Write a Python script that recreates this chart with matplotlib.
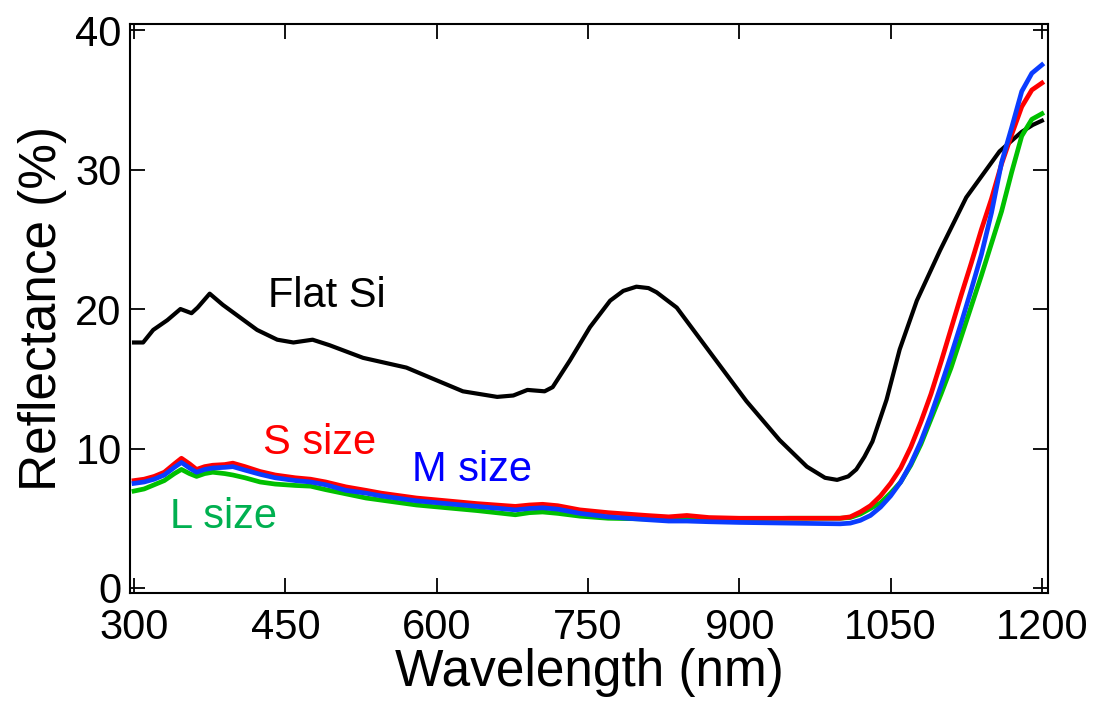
import matplotlib
matplotlib.use("Agg")
import matplotlib.pyplot as plt

# ---------------- data ----------------
wl_flat = [300, 309, 319, 333, 346, 357, 363, 375, 388, 405, 422, 442, 458, 477, 494,
           527, 570, 593, 626, 660, 676, 690, 707, 715, 732, 752, 772, 785, 798, 810,
           818, 838, 874, 907, 940, 967, 985, 997, 1008, 1016, 1024, 1032, 1046, 1059,
           1076, 1099, 1125, 1158, 1180, 1191, 1200]
r_flat = [17.6, 17.6, 18.5, 19.2, 20.0, 19.7, 20.1, 21.1, 20.3, 19.4, 18.5, 17.8, 17.6,
          17.8, 17.4, 16.5, 15.8, 15.1, 14.1, 13.7, 13.8, 14.2, 14.1, 14.4, 16.3, 18.7,
          20.6, 21.3, 21.6, 21.5, 21.2, 20.1, 16.6, 13.4, 10.6, 8.7, 7.9, 7.75, 8.0, 8.5,
          9.4, 10.5, 13.5, 17.1, 20.6, 24.2, 28.0, 31.3, 32.7, 33.2, 33.5]

wl_np = [300, 310, 320, 330, 340, 347, 355, 362, 370, 378, 390, 398, 410, 425, 440,
         460, 475, 490, 510, 530, 545, 560, 580, 610, 640, 678, 692, 705, 720, 742,
         770, 808, 830, 848, 870, 900, 950, 1000, 1010, 1020, 1030, 1040, 1050, 1060,
         1070, 1080, 1090, 1100, 1110, 1120, 1130, 1140, 1150, 1160, 1170, 1180, 1190,
         1200]
r_s = [7.7, 7.8, 8.0, 8.3, 8.9, 9.3, 8.9, 8.5, 8.7, 8.8, 8.85, 8.95, 8.7, 8.35, 8.1,
       7.9, 7.8, 7.6, 7.25, 7.0, 6.8, 6.65, 6.45, 6.25, 6.05, 5.85, 5.95, 6.0, 5.9, 5.6,
       5.4, 5.2, 5.1, 5.2, 5.05, 5.0, 5.0, 5.0, 5.1, 5.45, 5.9, 6.6, 7.5, 8.6,
       10.1, 11.9, 13.9, 16.2, 18.6, 21.0, 23.3, 25.7, 27.9, 30.4, 32.5, 34.5, 35.7,
       36.2]
r_m = [7.5, 7.6, 7.8, 8.1, 8.65, 9.0, 8.6, 8.3, 8.5, 8.6, 8.65, 8.7, 8.45, 8.15, 7.9,
       7.7, 7.6, 7.4, 7.0, 6.8, 6.6, 6.45, 6.25, 6.05, 5.85, 5.6, 5.7, 5.75, 5.65, 5.35,
       5.1, 4.9, 4.8, 4.8, 4.75, 4.7, 4.65, 4.6, 4.65, 4.85, 5.2, 5.8, 6.6, 7.6,
       8.9, 10.5, 12.4, 14.5, 16.7, 19.0, 21.4, 23.9, 26.9, 30.5, 33.0, 35.6, 36.9,
       37.5]
r_l = [6.95, 7.1, 7.4, 7.7, 8.2, 8.5, 8.2, 8.0, 8.2, 8.3, 8.2, 8.1, 7.9, 7.6, 7.45,
       7.35, 7.3, 7.05, 6.75, 6.45, 6.3, 6.15, 5.95, 5.75, 5.55, 5.25, 5.4, 5.45, 5.35,
       5.15, 5.0, 4.95, 4.95, 4.95, 4.95, 4.95, 5.0, 5.0, 5.05, 5.3, 5.7, 6.1, 6.8, 7.6,
       8.8, 10.3, 12.1, 13.9, 15.8, 18.0, 20.2, 22.4, 24.7, 27.0, 29.8, 32.4, 33.6,
       34.0]

x_ticks = [300, 450, 600, 750, 900, 1050, 1200]
y_ticks = [0, 10, 20, 30, 40]

# ---------------- plot ----------------
plt.rcParams['font.family'] = ['Liberation Sans', 'DejaVu Sans']

fig = plt.figure(figsize=(10.97, 7.15), dpi=100)
ax = fig.add_axes([0.1185, 0.1706, 0.8368, 0.7958])

ax.plot(wl_flat, r_flat, color='black', lw=3.0, solid_joinstyle='round', zorder=3)
ax.plot(wl_np, r_l, color='#00c000', lw=3.4, solid_joinstyle='round', zorder=4)
ax.plot(wl_np, r_m, color='#0a3cff', lw=3.4, solid_joinstyle='round', zorder=5)
ax.plot(wl_np, r_s, color='#ff0000', lw=3.4, solid_joinstyle='round', zorder=4.5)

ax.set_xlim(296, 1206)
ax.set_ylim(-0.36, 40.43)
ax.set_xticks(x_ticks)
ax.set_yticks(y_ticks)
ax.tick_params(direction='in', length=10.5, width=1.3, labelsize=30,
               top=True, right=True)
ax.tick_params(axis='x', pad=11)
ax.tick_params(axis='y', pad=6)
for s in ax.spines.values():
    s.set_linewidth(1.5)

ax.set_xlabel('Wavelength (nm)', fontsize=37, labelpad=0)
ax.set_ylabel('Reflectance (%)', fontsize=37, labelpad=6)

ax.text(491, 20.9, 'Flat Si', fontsize=30, color='black', ha='center', va='center')
ax.text(484, 10.4, 'S size', fontsize=30, color='#ff0000', ha='center', va='center')
ax.text(635, 8.45, 'M size', fontsize=30, color='#0000ff', ha='center', va='center')
ax.text(389, 5.1, 'L size', fontsize=30, color='#00b050', ha='center', va='center')

fig.savefig('out.png', dpi=100)
